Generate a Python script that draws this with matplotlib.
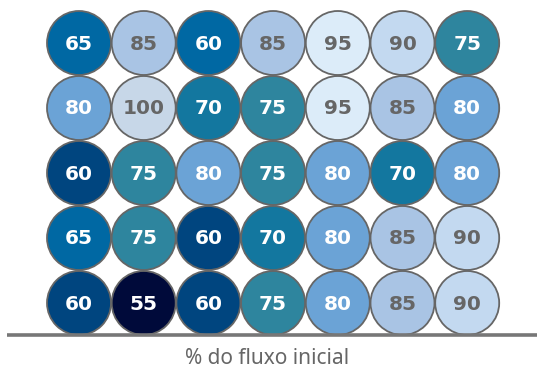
import matplotlib.pyplot as plt
from matplotlib.patches import Circle

valores = [
    [65, 85, 60, 85, 95, 90, 75],
    [80, 100, 70, 75, 95, 85, 80],
    [60, 75, 80, 75, 80, 70, 80],
    [65, 75, 60, 70, 80, 85, 90],
    [60, 55, 60, 75, 80, 85, 90],
]
rotulo_eixo = '% do fluxo inicial'

cores = {
    55: '#000a3a', 60: '#00457f', 65: '#0068a3', 70: '#13779f',
    75: '#2e859e', 80: '#6ba3d6', 85: '#a9c4e4', 90: '#c3d9f0',
    95: '#dcecf9', 100: '#c7d7e8',
}
# primeira linha: o 60 tem o mesmo tom do 65
excecoes = {(0, 2): '#0068a3'}

fig = plt.figure(figsize=(5.37, 3.72), dpi=100)
ax = fig.add_axes([0, 0, 1, 1])
ax.set_xlim(0, 537)
ax.set_ylim(372, 0)
ax.set_aspect('equal')
ax.axis('off')

x0, y0, passo_x, passo_y, raio = 79, 43, 64.7, 65, 32
for i, linha in enumerate(valores):
    for j, v in enumerate(linha):
        cx = x0 + j * passo_x
        cy = y0 + i * passo_y
        cor = excecoes.get((i, j), cores[v])
        ax.add_patch(Circle((cx, cy), raio, facecolor=cor, edgecolor='#666666', lw=1.3))
        cor_txt = 'white' if v <= 80 else '#666666'
        ax.text(cx, cy + 1, str(v), ha='center', va='center', color=cor_txt,
                fontsize=14.5, fontweight='bold', family='DejaVu Sans')

ax.plot([7, 537], [334.5, 334.5], color='#777777', lw=2.6, solid_capstyle='butt')
ax.text(267, 359, rotulo_eixo, ha='center', va='center', color='#666666',
        fontsize=15, family='Noto Sans')

fig.savefig('out.png', dpi=100)
